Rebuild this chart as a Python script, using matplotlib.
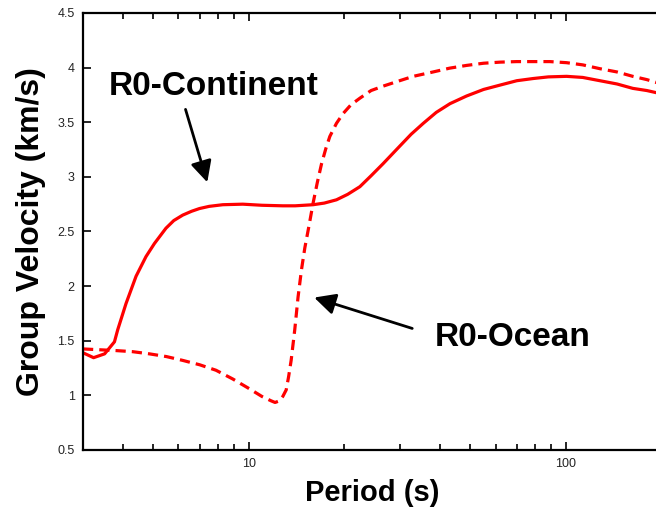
import numpy as np
import matplotlib.pyplot as plt
from matplotlib.ticker import FixedLocator, FixedFormatter, LogLocator, NullFormatter

# R0 continent (solid)
period_cont = [3.0, 3.24, 3.51, 3.77, 3.86, 4.10, 4.41, 4.74, 5.04, 5.48, 5.8, 6.19,
               6.6, 6.99, 7.5, 8.28, 9.57, 11.0, 12.8, 14.0, 15.95, 17.3, 18.9,
               20.5, 22.4, 24.3, 26.5, 29.9, 32.5, 35.5, 39.0, 43.1, 48.6, 55.0,
               62.0, 70.0, 78.8, 88.0, 100.5, 113, 128, 145, 162.5, 180, 200]
vel_cont = [1.39, 1.345, 1.38, 1.49, 1.60, 1.84, 2.09, 2.27, 2.39, 2.53, 2.60, 2.65,
            2.685, 2.71, 2.73, 2.745, 2.75, 2.74, 2.735, 2.735, 2.745, 2.76, 2.79,
            2.84, 2.91, 3.01, 3.12, 3.28, 3.39, 3.49, 3.59, 3.67, 3.74, 3.80,
            3.84, 3.88, 3.90, 3.915, 3.92, 3.91, 3.88, 3.85, 3.81, 3.79, 3.76]

# R0 ocean (dashed)
period_ocean = [3.0, 3.81, 4.3, 4.86, 5.5, 6.19, 7.0, 7.88, 8.9, 10.05, 11.0, 11.76,
                12.1, 12.5, 12.8, 13.12, 13.35, 13.6, 13.96, 14.3, 14.66, 15.02,
                15.5, 15.95, 16.45, 16.96, 17.5, 18.01, 18.9, 19.84, 21.0, 22.4,
                24.3, 26.5, 29.9, 33.0, 38.1, 43.0, 48.6, 55.0, 62.0, 70.0, 78.8,
                89.0, 100.5, 113, 128, 145, 162.5, 180, 200]
vel_ocean = [1.425, 1.41, 1.40, 1.38, 1.355, 1.32, 1.28, 1.23, 1.15, 1.06, 0.99, 0.95,
             0.935, 0.95, 0.99, 1.05, 1.17, 1.32, 1.60, 1.90, 2.15, 2.35,
             2.56, 2.76, 2.95, 3.12, 3.26, 3.37, 3.49, 3.58, 3.66, 3.72,
             3.79, 3.83, 3.88, 3.92, 3.96, 3.995, 4.02, 4.04, 4.05, 4.055, 4.055,
             4.055, 4.045, 4.025, 3.99, 3.96, 3.92, 3.89, 3.85]

plt.rcParams['font.family'] = ['Liberation Sans', 'DejaVu Sans']

fig = plt.figure(figsize=(6.56, 5.17), dpi=100)
ax = fig.add_axes([0.1265, 0.1296, 0.8817, 0.8453])

ax.plot(period_cont, vel_cont, color='#ff0000', lw=2.3, solid_joinstyle='round')
ax.plot(period_ocean, vel_ocean, color='#ff0000', lw=2.3, dashes=(3.2, 1.9))

ax.set_xscale('log')
ax.set_xlim(3, 200)
ax.set_ylim(0.5, 4.5)

ax.xaxis.set_major_locator(FixedLocator([10, 100]))
ax.xaxis.set_major_formatter(FixedFormatter(['10', '100']))
ax.xaxis.set_minor_locator(LogLocator(base=10, subs=np.arange(2, 10)))
ax.xaxis.set_minor_formatter(NullFormatter())
ax.set_yticks(np.arange(0.5, 4.51, 0.5))
ax.set_yticklabels(['0.5', '1', '1.5', '2', '2.5', '3', '3.5', '4', '4.5'])

ax.spines['right'].set_visible(False)
for s in ['left', 'bottom', 'top']:
    ax.spines[s].set_linewidth(1.6)

ax.tick_params(axis='both', which='major', direction='in', length=6, width=1.2,
               labelsize=9, labelcolor='#222222', pad=6)
ax.tick_params(axis='x', which='minor', direction='in', length=4, width=1.2, top=True)
ax.tick_params(axis='x', which='major', top=True)

ax.set_xlabel('Period (s)', fontsize=21, fontweight='bold', labelpad=6)
ax.set_ylabel('Group Velocity (km/s)', fontsize=23, fontweight='bold', labelpad=8)

ax.text(7.73, 3.826, 'R0-Continent', fontsize=24, fontweight='bold',
        ha='center', va='center')
ax.annotate('', xy=(7.44, 2.926), xytext=(6.28, 3.642),
            arrowprops=dict(arrowstyle='-|>', color='black', lw=2, mutation_scale=32))

ax.text(67.8, 1.532, 'R0-Ocean', fontsize=24, fontweight='bold',
        ha='center', va='center')
ax.annotate('', xy=(15.77, 1.903), xytext=(33.4, 1.605),
            arrowprops=dict(arrowstyle='-|>', color='black', lw=2, mutation_scale=32))

fig.savefig('out.png', dpi=100)
